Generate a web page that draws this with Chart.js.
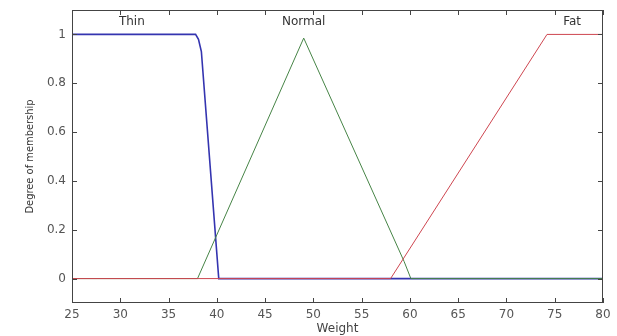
<!DOCTYPE html>
<html>
<head>
<meta charset="utf-8">
<script src="https://cdn.jsdelivr.net/npm/chart.js@4/dist/chart.umd.min.js"></script>
<style>
	html, body { margin: 0; padding: 0; background: #fff; }
	#wrap { width: 617px; height: 336px; }
</style>
</head>
<body>
<div id="wrap"><canvas id="ctx"></canvas></div>
<script>
// membership functions
const thinX = [25, 37.8, 38.1, 38.4, 40.2, 80];
const thinY = [1, 1, 0.98, 0.93, 0, 0];
const normalX = [25, 38, 49, 59.4, 60.1, 80];
const normalY = [0, 0, 0.985, 0.07, 0, 0];
const fatX = [25, 58, 74.2, 80];
const fatY = [0, 0, 1, 1];

const xTicks = [25, 30, 35, 40, 45, 50, 55, 60, 65, 70, 75, 80];
const yTicks = [0, 0.2, 0.4, 0.6, 0.8, 1];

const labels = ['Thin', 'Normal', 'Fat'];
const labelX = [31.2, 49, 76.8];
const labelY = [1.05, 1.05, 1.05];

const tickFont = { size: 12, family: '"DejaVu Sans", sans-serif' };

function pts(xs, ys) {
	return xs.map((x, i) => ({x: x, y: ys[i]}));
}

// matlab style: box round the plot, ticks pointing inwards, text labels
const matlabBox = {
	id: 'matlabBox',
	afterDraw(chart) {
		const c = chart.ctx;
		const a = chart.chartArea;
		const xs = chart.scales.x;
		const ys = chart.scales.y;
		c.save();
		c.strokeStyle = '#444';
		c.lineWidth = 1;
		c.strokeRect(a.left + 0.5, a.top + 0.5, a.right - a.left - 1, a.bottom - a.top - 1);
		c.beginPath();
		xTicks.forEach(v => {
			const px = Math.round(xs.getPixelForValue(v)) + 0.5;
			c.moveTo(px, a.bottom); c.lineTo(px, a.bottom - 5);
			c.moveTo(px, a.top); c.lineTo(px, a.top + 5);
		});
		yTicks.forEach(v => {
			const py = Math.round(ys.getPixelForValue(v)) + 0.5;
			c.moveTo(a.left, py); c.lineTo(a.left + 5, py);
			c.moveTo(a.right, py); c.lineTo(a.right - 5, py);
		});
		c.stroke();

		c.fillStyle = '#333';
		c.font = '12px "DejaVu Sans", sans-serif';
		c.textAlign = 'center';
		c.textBaseline = 'middle';
		labels.forEach((t, i) => {
			c.fillText(t, xs.getPixelForValue(labelX[i]), ys.getPixelForValue(labelY[i]));
		});
		c.restore();
	}
};

new Chart(document.getElementById('ctx'), {
	type: 'line',
	data: {
		datasets: [{
				label: 'Thin',
				data: pts(thinX, thinY),
				borderColor: 'rgb(52, 52, 176)',
				borderWidth: 1.6,
				order: 2
			},
			{
				label: 'Normal',
				data: pts(normalX, normalY),
				borderColor: 'rgb(70, 132, 70)',
				borderWidth: 1,
				order: 1
			},
			{
				label: 'Fat',
				data: pts(fatX, fatY),
				borderColor: 'rgb(206, 70, 80)',
				borderWidth: 1,
				order: 0
			},
		]
	},
	options: {
		responsive: true,
		maintainAspectRatio: false,
		animation: false,
		elements: {
			point: { radius: 0 },
			line: { tension: 0 }
		},
		layout: {
			padding: { top: 10, right: 14, left: 24, bottom: 0 }
		},
		plugins: {
			legend: { display: false },
			tooltip: { enabled: false }
		},
		scales: {
			x: {
				type: 'linear',
				min: 25,
				max: 80,
				afterBuildTicks: s => { s.ticks = xTicks.map(v => ({value: v})); },
				afterFit: s => { s.height = 33; s.paddingLeft = 0; s.paddingRight = 0; },
				grid: { display: false, drawTicks: false },
				border: { display: false },
				ticks: {
					color: '#555',
					padding: 5,
					maxRotation: 0,
					font: tickFont
				},
				title: {
					display: true,
					text: 'Weight',
					color: '#444',
					padding: { top: 0, bottom: 0 },
					font: tickFont
				}
			},
			y: {
				type: 'linear',
				min: -0.1,
				max: 1.1,
				afterBuildTicks: s => { s.ticks = yTicks.map(v => ({value: v})); },
				afterFit: s => { s.width = 48; s.paddingTop = 0; s.paddingBottom = 0; },
				grid: { display: false, drawTicks: false },
				border: { display: false },
				ticks: {
					color: '#555',
					padding: 6,
					callback: v => String(v),
					font: tickFont
				},
				title: {
					display: true,
					text: 'Degree of membership',
					color: '#333',
					padding: { top: 0, bottom: 0 },
					font: { size: 11, family: '"DejaVu Sans Condensed", "Liberation Sans Narrow", sans-serif' }
				}
			}
		}
	},
	plugins: [matlabBox]
});
</script>
</body>
</html>
